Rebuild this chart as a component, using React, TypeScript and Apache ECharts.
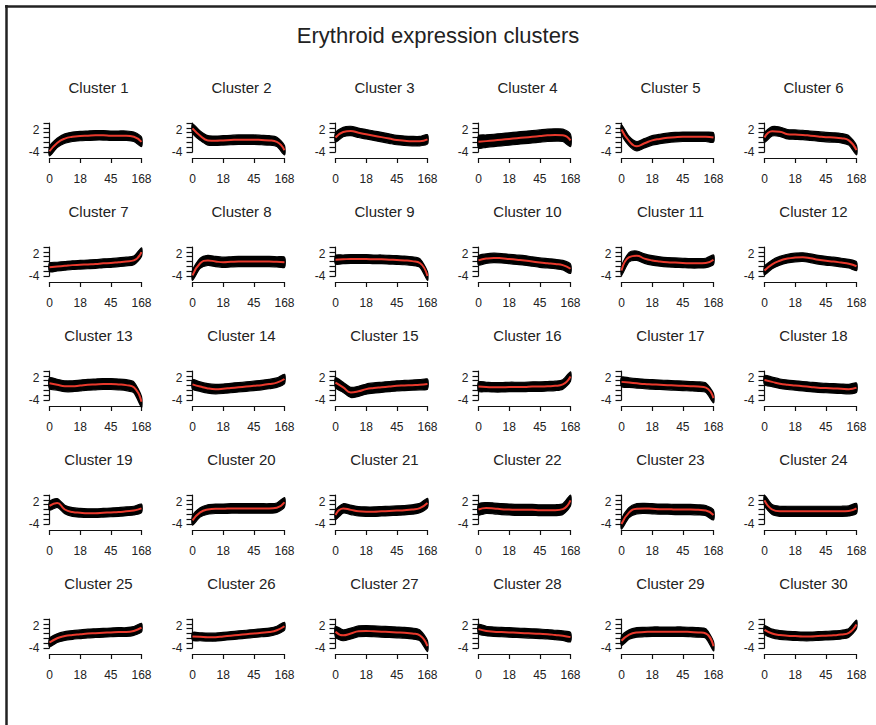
import React, { useEffect, useRef } from "react";
import * as echarts from "echarts";

const TITLE = "Erythroid expression clusters";
const X_TICK_POS = [0, 4, 8, 12];
const X_TICK_LABELS = ["0", "18", "45", "168"];
const Y_TICKS = [-4, -2.667, -1.333, 0, 1.333, 2.667, 4];
const Y_LABELS = [-4, 2];

const cluster1 = [-3.8, -1.5, -0.3, 0.2, 0.4, 0.5, 0.6, 0.6, 0.5, 0.5, 0.5, 0.2, -1.2];
const cluster2 = [2.5, 0.5, -0.8, -0.9, -0.8, -0.7, -0.6, -0.6, -0.6, -0.7, -0.8, -1.2, -3.5];
const cluster3 = [0.0, 1.5, 1.8, 1.3, 0.9, 0.5, 0.1, -0.3, -0.7, -0.9, -1.0, -1.0, -0.5];
const cluster4 = [-1.2, -1.0, -0.8, -0.6, -0.4, -0.2, 0.0, 0.2, 0.4, 0.6, 0.7, 0.6, -0.8];
const cluster5 = [2.2, -1.0, -2.4, -1.6, -0.8, -0.4, -0.1, 0.1, 0.2, 0.2, 0.2, 0.2, 0.0];
const cluster6 = [0.0, 1.7, 1.6, 0.9, 0.8, 0.7, 0.5, 0.3, 0.1, 0.0, -0.2, -0.8, -3.5];
const cluster7 = [-1.6, -1.4, -1.2, -1.0, -0.9, -0.8, -0.7, -0.5, -0.4, -0.2, 0.0, 0.3, 2.6];
const cluster8 = [-3.8, -0.5, 0.3, 0.0, -0.2, -0.1, 0.0, 0.0, 0.0, 0.0, 0.0, -0.1, -0.2];
const cluster9 = [0.5, 0.6, 0.7, 0.7, 0.7, 0.6, 0.6, 0.5, 0.4, 0.3, 0.1, -0.4, -4.0];
const cluster10 = [0.3, 0.8, 1.0, 0.9, 0.7, 0.5, 0.3, 0.0, -0.3, -0.5, -0.7, -1.0, -2.0];
const cluster11 = [-2.5, 1.2, 1.6, 0.8, 0.3, 0.0, -0.2, -0.3, -0.4, -0.5, -0.5, -0.4, 0.5];
const cluster12 = [-2.5, -0.8, 0.2, 0.8, 1.1, 1.2, 0.9, 0.5, 0.2, 0.0, -0.3, -0.6, -1.3];
const cluster13 = [0.6, 0.2, -0.2, -0.2, 0.0, 0.2, 0.3, 0.4, 0.4, 0.3, 0.1, -0.5, -4.5];
const cluster14 = [0.3, -0.3, -0.8, -1.0, -0.9, -0.7, -0.5, -0.3, -0.1, 0.1, 0.4, 0.8, 1.8];
const cluster15 = [0.8, -0.5, -1.9, -1.6, -1.0, -0.7, -0.5, -0.3, -0.1, 0.0, 0.1, 0.2, 0.4];
const cluster16 = [-0.3, -0.4, -0.5, -0.5, -0.4, -0.4, -0.4, -0.3, -0.3, -0.2, -0.1, 0.3, 2.5];
const cluster17 = [1.0, 0.8, 0.6, 0.4, 0.3, 0.2, 0.1, 0.0, -0.1, -0.2, -0.3, -0.6, -3.5];
const cluster18 = [1.5, 1.0, 0.5, 0.2, 0.0, -0.2, -0.4, -0.6, -0.7, -0.8, -0.9, -1.0, -0.6];
const cluster19 = [1.0, 1.8, 0.0, -0.7, -0.9, -1.0, -1.0, -0.9, -0.8, -0.7, -0.5, -0.3, 0.3];
const cluster20 = [-3.0, -0.8, 0.0, 0.2, 0.2, 0.3, 0.3, 0.3, 0.3, 0.3, 0.3, 0.5, 2.0];
const cluster21 = [-1.5, 0.3, -0.1, -0.5, -0.6, -0.6, -0.5, -0.4, -0.3, -0.2, 0.0, 0.4, 1.8];
const cluster22 = [0.0, 0.4, 0.3, 0.1, 0.0, -0.1, -0.1, -0.1, -0.2, -0.2, -0.2, 0.1, 2.5];
const cluster23 = [-4.0, -0.8, 0.2, 0.3, 0.2, 0.1, 0.1, 0.0, 0.0, 0.0, -0.1, -0.3, -1.5];
const cluster24 = [2.5, 0.0, -0.5, -0.5, -0.5, -0.5, -0.5, -0.5, -0.5, -0.5, -0.5, -0.4, 0.3];
const cluster25 = [-2.5, -1.3, -0.7, -0.4, -0.2, 0.0, 0.1, 0.2, 0.3, 0.4, 0.4, 0.7, 1.6];
const cluster26 = [-0.8, -0.9, -1.0, -1.0, -0.8, -0.6, -0.4, -0.2, 0.0, 0.2, 0.4, 0.9, 2.0];
const cluster27 = [0.5, -0.5, 0.0, 0.6, 0.7, 0.6, 0.5, 0.4, 0.3, 0.2, 0.0, -0.5, -3.5];
const cluster28 = [1.2, 0.7, 0.5, 0.4, 0.3, 0.2, 0.1, 0.0, -0.1, -0.2, -0.4, -0.6, -1.0];
const cluster29 = [-2.0, -0.3, 0.3, 0.4, 0.5, 0.5, 0.5, 0.5, 0.5, 0.4, 0.3, 0.0, -3.5];
const cluster30 = [1.0, 0.0, -0.4, -0.6, -0.7, -0.8, -0.8, -0.7, -0.6, -0.5, -0.3, 0.2, 2.5];

const MEANS = [
  cluster1, cluster2, cluster3, cluster4, cluster5, cluster6,
  cluster7, cluster8, cluster9, cluster10, cluster11, cluster12,
  cluster13, cluster14, cluster15, cluster16, cluster17, cluster18,
  cluster19, cluster20, cluster21, cluster22, cluster23, cluster24,
  cluster25, cluster26, cluster27, cluster28, cluster29, cluster30,
];

const BAND_HALF = [
  1.3, 1.3, 1.3, 1.7, 1.3, 1.3,
  1.2, 1.4, 1.2, 1.3, 1.3, 1.2,
  1.5, 1.3, 1.4, 1.3, 1.3, 1.3,
  1.2, 1.3, 1.3, 1.5, 1.4, 1.4,
  1.2, 1.1, 1.5, 1.3, 1.3, 1.2,
];

const FONT = "'Liberation Sans', Arial, Helvetica, sans-serif";
const COLS = 6;

function buildOption() {
  const grids: any[] = [];
  const xAxes: any[] = [];
  const yAxes: any[] = [];
  const series: any[] = [];
  const graphics: any[] = [
    {
      type: "line",
      shape: { x1: 5, y1: 6.5, x2: 880, y2: 6.5 },
      style: { stroke: "#222", lineWidth: 2.5 },
      silent: true,
    },
    {
      type: "line",
      shape: { x1: 6.5, y1: 5, x2: 6.5, y2: 730 },
      style: { stroke: "#222", lineWidth: 2.5 },
      silent: true,
    },
    {
      type: "text",
      x: 438,
      y: 35,
      style: {
        text: TITLE,
        font: `22px ${FONT}`,
        fill: "#222",
        textAlign: "center",
        textVerticalAlign: "middle",
      },
    },
  ];

  MEANS.forEach((mean, i) => {
    const r = Math.floor(i / COLS);
    const c = i % COLS;
    const left = 49.5 + 143 * c;
    const top = 123 + 124 * r;
    grids.push({ left, top, width: 92, height: 29, containLabel: false });
    xAxes.push({
      type: "value",
      gridIndex: i,
      min: 0,
      max: 12,
      offset: 6,
      position: "bottom",
      axisLine: { show: true, onZero: false, lineStyle: { color: "#111", width: 1.2 } },
      axisTick: { show: true, length: 5, customValues: X_TICK_POS, lineStyle: { color: "#111", width: 1.2 } },
      axisLabel: {
        show: true,
        customValues: X_TICK_POS,
        margin: 15,
        fontSize: 12,
        fontFamily: FONT,
        color: "#222",
        formatter: (v: number) => X_TICK_LABELS[X_TICK_POS.indexOf(v)] ?? "",
      },
      splitLine: { show: false },
    });
    yAxes.push({
      type: "value",
      gridIndex: i,
      min: -4,
      max: 4,
      position: "left",
      axisLine: { show: true, onZero: false, lineStyle: { color: "#111", width: 1.2 } },
      axisTick: { show: true, length: 6, customValues: Y_TICKS, lineStyle: { color: "#111", width: 1.2 } },
      axisLabel: {
        show: true,
        customValues: Y_LABELS,
        margin: 10,
        fontSize: 12,
        fontFamily: FONT,
        color: "#222",
      },
      splitLine: { show: false },
    });
    const hw = BAND_HALF[i];
    series.push({
      type: "custom",
      coordinateSystem: "cartesian2d",
      xAxisIndex: i,
      yAxisIndex: i,
      data: [[0, 0]],
      clip: false,
      silent: true,
      z: 2,
      renderItem: (_params: any, api: any) => {
        const up = mean.map((v, k) => api.coord([k, v + hw]));
        const lo = mean.map((v, k) => api.coord([k, v - hw])).reverse();
        return {
          type: "polygon",
          shape: { points: up.concat(lo), smooth: 0.25 },
          style: { fill: "#000", stroke: "#000", lineWidth: 1.2 },
        };
      },
    });
    series.push({
      type: "line",
      xAxisIndex: i,
      yAxisIndex: i,
      data: mean.map((v, k) => [k, v]),
      smooth: 0.5,
      symbol: "none",
      clip: false,
      lineStyle: { color: "#e8392c", width: 2 },
      silent: true,
      z: 5,
    });
    graphics.push({
      type: "text",
      x: left + 49,
      y: 87 + 124 * r,
      style: {
        text: `Cluster ${i + 1}`,
        font: `15px ${FONT}`,
        fill: "#222",
        textAlign: "center",
        textVerticalAlign: "middle",
      },
    });
  });

  return {
    animation: false,
    backgroundColor: "#fff",
    grid: grids,
    xAxis: xAxes,
    yAxis: yAxes,
    series,
    graphic: graphics,
  };
}

export default function App() {
  const ref = useRef<HTMLDivElement>(null);
  useEffect(() => {
    if (!ref.current) return;
    const chart = echarts.init(ref.current, null, { renderer: "svg" });
    chart.setOption(buildOption() as any);
    return () => chart.dispose();
  }, []);
  return (
    <div
      ref={ref}
      style={{ position: "fixed", left: 0, top: 0, width: 876, height: 725, background: "#fff" }}
    />
  );
}
